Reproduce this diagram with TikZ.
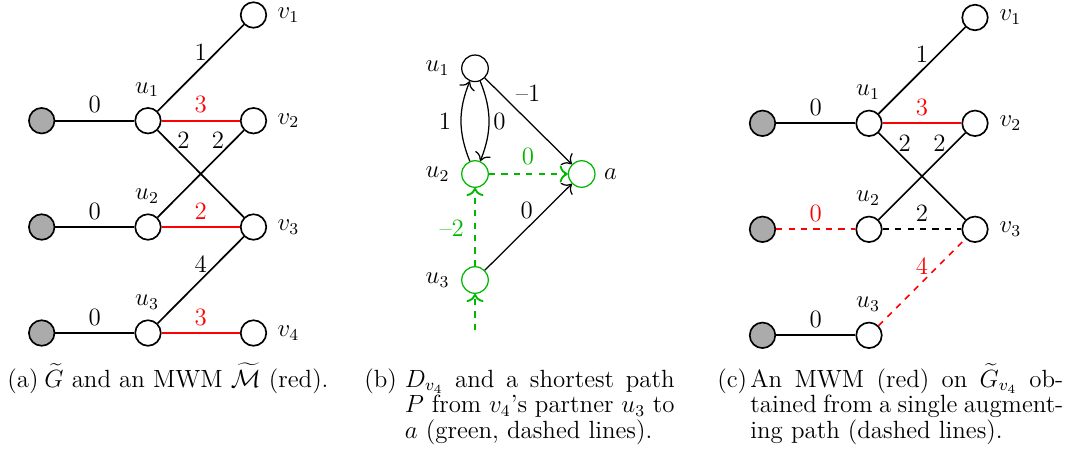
\documentclass[tikz,border=0pt]{standalone}
\usetikzlibrary{arrows.meta}
\begin{document}
\begin{tikzpicture}[x=0.4819pt,y=-0.4819pt,
  font=\fontsize{12}{12.5}\selectfont,
  vtx/.style={circle,draw,thick,fill=white,minimum size=12.3pt,inner sep=0pt},
  gvtx/.style={vtx,fill=black!33},
  bvtx/.style={circle,draw,semithick,fill=white,minimum size=12.8pt,inner sep=0pt},
  gbvtx/.style={bvtx,draw=pgreen},
  edg/.style={thick},
  medg/.style={thick,red},
  dedg/.style={thick,dashed},
  arr/.style={semithick,-{To[scale=1.3]}},
  garr/.style={line width=0.9pt,-{To[scale=1.1]},dashed,pgreen},
  wl/.style={above,inner sep=3.2pt},
  txt/.style={inner sep=0pt},
  captxt/.style={anchor=base west,inner sep=0pt},
]
\definecolor{pgreen}{rgb}{0,0.72,0}
\useasboundingbox (0,0) rectangle (1077,456);

% ---------------- (a) ----------------
\node[gvtx] (ga1) at (41.7,120.7) {};
\node[gvtx] (ga2) at (41.7,227) {};
\node[gvtx] (ga3) at (41.7,333) {};
\node[vtx] (ua1) at (148,120.7) {};
\node[vtx] (ua2) at (148,227) {};
\node[vtx] (ua3) at (148,333) {};
\node[vtx] (va1) at (253.5,15) {};
\node[vtx] (va2) at (253.5,120.7) {};
\node[vtx] (va3) at (253.5,227) {};
\node[vtx] (va4) at (253.5,333) {};
\node[txt] (lua1) at (147,89.5) {$u_1$};
\node[txt] (lua2) at (147,196) {$u_2$};
\node[txt] (lua3) at (147,302) {$u_3$};
\node[txt] (lva1) at (288.5,15) {$v_1$};
\node[txt] (lva2) at (288.5,120.7) {$v_2$};
\node[txt] (lva3) at (288.5,227) {$v_3$};
\node[txt] (lva4) at (288.5,333) {$v_4$};
\draw[edg] (ga1) -- node[wl] (wa1) {0} (ua1);
\draw[edg] (ga2) -- node[wl] (wa2) {0} (ua2);
\draw[edg] (ga3) -- node[wl] (wa3) {0} (ua3);
\draw[edg] (ua1) -- node[wl] (wa4) {1} (va1);
\draw[medg] (ua1) -- node[wl] (wa5) {3} (va2);
\draw[edg] (ua1) -- node[wl,pos=0.3] (wa6) {2} (va3);
\draw[edg] (ua2) -- node[wl,pos=0.7] (wa7) {2} (va2);
\draw[medg] (ua2) -- node[wl] (wa8) {2} (va3);
\draw[edg] (ua3) -- node[wl] (wa9) {4} (va3);
\draw[medg] (ua3) -- node[wl] (wa10) {3} (va4);

% ---------------- (b) ----------------
\node[bvtx] (ub1) at (475,68.3) {};
\node[gbvtx] (ub2) at (475,174) {};
\node[gbvtx] (ub3) at (475,280) {};
\node[gbvtx] (ab) at (581.7,174) {};
\coordinate (sb) at (475,330);
\node[txt] (lub1) at (437.5,68.3) {$u_1$};
\node[txt] (lub2) at (437.5,174) {$u_2$};
\node[txt] (lub3) at (437.5,280) {$u_3$};
\node[txt] (lab) at (610.5,174) {$a$};
\draw[arr] (ub2) to[bend left=22] (ub1);
\draw[arr] (ub1) to[bend left=22] (ub2);
\draw[arr] (ub1) -- (ab);
\draw[arr] (ub3) -- (ab);
\draw[garr] (ub2) -- (ab);
\draw[garr] (ub3) -- (ub2);
\draw[garr] (sb) -- (ub3);
\node[txt] (wb1) at (528,93) {\textendash1};
\node[txt] (wb2) at (445,121.7) {1};
\node[txt] (wb3) at (499.5,121.7) {0};
\node[txt,text=pgreen] (wb4) at (528,156.7) {0};
\node[txt] (wb5) at (526.7,210) {0};
\node[txt,text=pgreen] (wb6) at (451.7,228.3) {\textendash2};

% ---------------- (c) ----------------
\node[gvtx] (gc1) at (762.5,123.3) {};
\node[gvtx] (gc2) at (762.5,229.3) {};
\node[gvtx] (gc3) at (762.5,335.3) {};
\node[vtx] (uc1) at (869,123.3) {};
\node[vtx] (uc2) at (869,229.3) {};
\node[vtx] (uc3) at (869,335.3) {};
\node[vtx] (vc1) at (975,17.5) {};
\node[vtx] (vc2) at (975,123.3) {};
\node[vtx] (vc3) at (975,229.3) {};
\node[txt] (luc1) at (868,92) {$u_1$};
\node[txt] (luc2) at (868,198) {$u_2$};
\node[txt] (luc3) at (868,304) {$u_3$};
\node[txt] (lvc1) at (1010.5,17.5) {$v_1$};
\node[txt] (lvc2) at (1010.5,123.3) {$v_2$};
\node[txt] (lvc3) at (1010.5,229.3) {$v_3$};
\draw[edg] (gc1) -- node[wl] (wc1) {0} (uc1);
\draw[dedg,red] (gc2) -- node[wl] (wc2) {0} (uc2);
\draw[edg] (gc3) -- node[wl] (wc3) {0} (uc3);
\draw[edg] (uc1) -- node[wl] (wc4) {1} (vc1);
\draw[medg] (uc1) -- node[wl] (wc5) {3} (vc2);
\draw[edg] (uc1) -- node[wl,pos=0.3] (wc6) {2} (vc3);
\draw[edg] (uc2) -- node[wl,pos=0.7] (wc7) {2} (vc2);
\draw[dedg] (uc2) -- node[wl] (wc8) {2} (vc3);
\draw[dedg,red] (uc3) -- node[wl] (wc9) {4} (vc3);

% ---------------- captions ----------------
\node[captxt] (capa) at (7,387) {(a)};
\node[captxt] (capat) at (44,387) {$\widetilde{G}$ and an MWM $\widetilde{\mathcal{M}}$ (red).};
\node[captxt] (capb) at (364,387) {(b)};
\node[captxt,text width=130pt,align=justify] (capbt) at (404.5,387)
  {$D_{v_4}$ and a shortest path\linebreak $P$ from $v_4$'s partner $u_3$ to\linebreak $a$ (green, dashed lines).};
\node[captxt] (capc) at (717,387) {(c)};
\node[captxt,text width=150.8pt,align=justify] (capct) at (750,387)
  {An MWM (red) on $\widetilde{G}_{v_4}$ ob-\linebreak tained from a single augment-\linebreak ing path (dashed lines).};
\end{tikzpicture}
\end{document}
